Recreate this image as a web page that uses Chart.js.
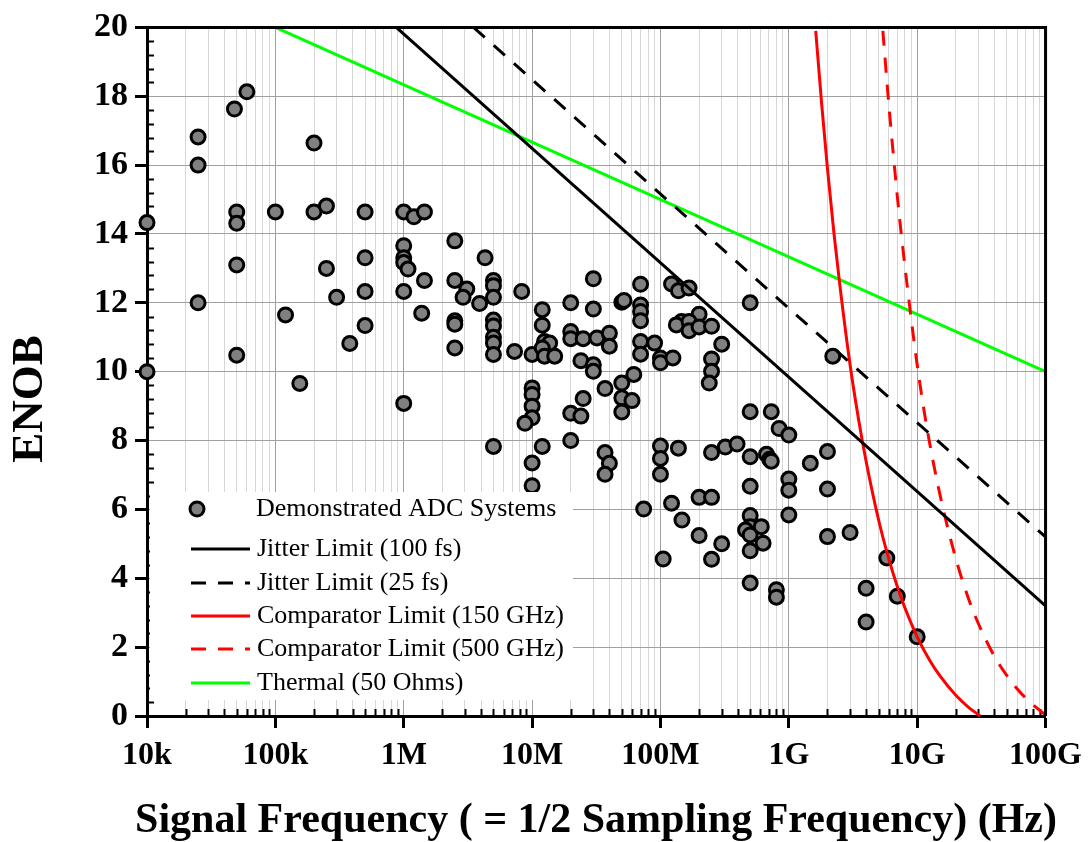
<!DOCTYPE html>
<html>
<head>
<meta charset="utf-8">
<script src="https://cdn.jsdelivr.net/npm/chart.js@4.4.1/dist/chart.umd.min.js"></script>
<style>
  html, body { margin: 0; padding: 0; background: #fff; }
  #wrap { width: 1091px; height: 842px; }
</style>
</head>
<body>
<div id="wrap"><canvas id="chart" width="1091" height="842"></canvas></div>
<script>
// Demonstrated ADC systems: signal frequency (Hz) and ENOB
const adcFreq = [
  1e4, 1e4, 2.5e4, 2.5e4, 2.5e4, 4.8e4, 6e4, 5e4, 5e4, 5e4,
  5e4, 1e5, 1.2e5, 1.55e5, 2e5, 2e5, 2.5e5, 2.5e5, 3e5, 3.8e5,
  5e5, 5e5, 5e5, 5e5, 1e6, 1.2e6, 1.45e6, 1e6, 1e6, 1e6,
  1.08e6, 1.45e6, 1e6, 1.38e6, 1e6, 2.5e6, 4.3e6, 2.5e6, 3.1e6, 2.9e6,
  3.9e6, 5e6, 5e6, 5e6, 5e6, 5e6, 5e6, 5e6, 5e6, 5e6,
  2.5e6, 2.5e6, 2.5e6, 8.3e6, 7.3e6, 1e7, 1.2e7, 1.2e7, 1.25e7, 1.37e7,
  1.2e7, 1.25e7, 1.5e7, 1e7, 1e7, 1e7, 1e7, 8.8e6, 1.2e7, 1e7,
  1e7, 2e7, 3e7, 3e7, 2e7, 2e7, 2.5e7, 3.2e7, 4e7, 4e7,
  2.4e7, 3e7, 3e7, 3.7e7, 2.5e7, 2e7, 2.4e7, 2e7, 3.7e7, 4e7,
  3.7e7, 5e7, 5e7, 6e7, 5e7, 6.2e7, 5e7, 5.2e7, 7e7, 7e7,
  7e7, 7e7, 7e7, 7e7, 9e7, 1e8, 1e8, 1.25e8, 1.22e8, 1.38e8,
  1.67e8, 2e8, 1.46e8, 1.33e8, 1.67e8, 1.67e8, 2e8, 2.5e8, 3e8, 2.5e8,
  2.5e8, 2.4e8, 5e8, 2.2e9, 5e8, 7.3e8, 1e8, 1e8, 1e8, 1.38e8,
  2.5e8, 3.2e8, 3.95e8, 5e8, 8.4e8, 1e9, 6.7e8, 7.1e8, 7.3e8, 1.47e9,
  2e9, 1e9, 1e9, 2e9, 5e8, 2e8, 2.5e8, 1.22e8, 7.4e7, 1.47e8,
  2e8, 3e8, 5e8, 5e8, 4.6e8, 5e8, 6.1e8, 6.3e8, 1e9, 2e9,
  5e8, 1.05e8, 2.5e8, 5e8, 8e8, 8e8, 3e9, 4e9, 4e9, 5.8e9,
  7e9, 1e10
];
const adcEnob = [
  14.33, 10.0, 16.82, 16.0, 12.0, 17.63, 18.13, 14.64, 14.31, 13.1,
  10.48, 14.64, 11.65, 9.66, 16.64, 14.64, 14.81, 13.0, 12.16, 10.82,
  14.64, 13.31, 12.33, 11.34, 14.64, 14.5, 14.64, 13.66, 13.31, 13.17,
  12.98, 12.65, 12.33, 11.7, 9.08, 13.8, 13.31, 12.65, 12.4, 12.16,
  11.98, 12.65, 12.5, 12.16, 11.5, 11.33, 11.0, 10.83, 10.5, 7.83,
  11.48, 11.38, 10.69, 12.33, 10.59, 10.5, 11.8, 11.35, 10.88, 10.83,
  10.69, 10.45, 10.45, 9.53, 9.34, 9.0, 8.66, 8.5, 7.83, 7.35,
  6.69, 12.0, 12.7, 11.82, 11.17, 10.96, 10.96, 10.98, 11.12, 10.74,
  10.32, 10.2, 10.01, 9.51, 9.22, 8.79, 8.71, 8.0, 7.65, 7.34,
  7.02, 9.67, 9.24, 9.16, 8.83, 9.92, 12.02, 12.07, 12.54, 11.94,
  11.75, 11.48, 10.88, 10.51, 10.83, 10.4, 10.26, 10.4, 12.55, 12.35,
  12.43, 11.67, 11.46, 11.36, 11.46, 11.19, 11.3, 11.32, 10.8, 10.37,
  10.01, 9.67, 12.0, 10.45, 8.84, 8.84, 7.84, 7.48, 7.02, 7.78,
  7.65, 7.81, 7.9, 7.53, 8.35, 8.16, 7.6, 7.46, 7.4, 7.34,
  7.68, 6.88, 6.56, 6.59, 6.67, 6.35, 6.35, 6.18, 6.01, 5.69,
  5.24, 5.0, 5.82, 5.5, 5.4, 5.26, 5.5, 5.02, 5.84, 5.21,
  4.8, 4.56, 4.55, 3.86, 3.67, 3.45, 5.33, 3.71, 2.73, 4.59,
  3.48, 2.3
];

// Limit curves
const jitter100Freq = [8.75e5, 1e11];
const jitter100Enob = [20, 3.2];
const jitter25Freq = [3.5e6, 1e11];
const jitter25Enob = [20, 5.2];
const thermalFreq = [1e5, 1e11];
const thermalEnob = [20, 10];
const comp150Freq = [1.62e9, 1.8e9, 2e9, 2.25e9, 2.5e9, 3e9, 3.5e9, 4e9, 5e9, 6e9, 7e9, 8e9, 1e10, 1.25e10, 1.5e10, 2e10, 2.5e10, 3.1e10];
const comp150Enob = [19.9, 17.8, 15.9, 14.0, 12.5, 10.2, 8.6, 7.4, 5.7, 4.57, 3.76, 3.15, 2.3, 1.62, 1.17, 0.6, 0.26, 0];
const comp500Freq = [5.4e9, 6e9, 7e9, 8e9, 1e10, 1.2e10, 1.5e10, 2e10, 2.5e10, 3e10, 4e10, 5e10, 6e10, 7e10, 8e10, 1e11];
const comp500Enob = [19.9, 17.8, 15.1, 13.1, 10.2, 8.3, 6.45, 4.57, 3.43, 2.68, 1.73, 1.17, 0.79, 0.52, 0.32, 0.03];

const xTickLabels = ['10k', '100k', '1M', '10M', '100M', '1G', '10G', '100G'];

const FONT = "'Liberation Serif', 'Times New Roman', serif";

const pts = (xs, ys) => xs.map((x, i) => ({ x, y: ys[i] }));
const isDecade = (v) => {
  const e = Math.round(Math.log10(v));
  return Math.abs(v / Math.pow(10, e) - 1) < 1e-9;
};

// inset legend, minor ticks, frame and axis titles
const decorPlugin = {
  id: 'decor',
  beforeDatasetsDraw(chart) {
    const { ctx, chartArea: a, scales } = chart;
    ctx.save();
    ctx.strokeStyle = '#000';
    ctx.lineWidth = 2;
    // minor y ticks pointing inward
    for (let v = 0.4; v < 20; v += 0.4) {
      if (Math.abs(v / 2 - Math.round(v / 2)) < 1e-6) continue;
      const y = Math.round(scales.y.getPixelForValue(v)) + 0.5;
      ctx.beginPath();
      ctx.moveTo(a.left, y);
      ctx.lineTo(a.left + 7, y);
      ctx.stroke();
    }
    // minor x ticks pointing inward
    scales.x.ticks.forEach((t) => {
      if (isDecade(t.value)) return;
      const x = Math.round(scales.x.getPixelForValue(t.value)) + 0.5;
      ctx.beginPath();
      ctx.moveTo(x, a.bottom);
      ctx.lineTo(x, a.bottom - 7);
      ctx.stroke();
    });
    ctx.restore();
  },
  afterDatasetsDraw(chart) {
    const { ctx, chartArea: a } = chart;
    ctx.save();
    // frame top/right
    ctx.strokeStyle = '#000';
    ctx.lineWidth = 3;
    ctx.beginPath();
    ctx.moveTo(a.left, a.top);
    ctx.lineTo(a.right, a.top);
    ctx.lineTo(a.right, a.bottom);
    ctx.stroke();

    // legend box
    ctx.fillStyle = '#fff';
    ctx.fillRect(150, 492, 423, 208);
    ctx.font = '26px ' + FONT;
    ctx.textBaseline = 'middle';
    ctx.textAlign = 'left';
    const ds = chart.data.datasets;
    // scatter entry
    const sc = ds[5];
    ctx.beginPath();
    ctx.arc(197, 509, 7, 0, Math.PI * 2);
    ctx.fillStyle = sc.backgroundColor;
    ctx.fill();
    ctx.lineWidth = 3;
    ctx.strokeStyle = sc.borderColor;
    ctx.stroke();
    ctx.fillStyle = '#000';
    ctx.fillText(sc.label, 256, 509);
    const rows = [549, 583, 616, 649, 683];
    for (let i = 0; i < 5; i++) {
      const d = ds[i];
      const y = rows[i];
      ctx.beginPath();
      ctx.setLineDash(d.borderDash || []);
      ctx.strokeStyle = d.borderColor;
      ctx.lineWidth = 3;
      ctx.moveTo(191, y);
      ctx.lineTo(250, y);
      ctx.stroke();
      ctx.setLineDash([]);
      ctx.fillStyle = '#000';
      ctx.fillText(d.label, 257, y);
    }
    ctx.restore();
  },
  afterDraw(chart) {
    const { ctx } = chart;
    ctx.save();
    ctx.fillStyle = '#000';
    ctx.font = 'bold 42px ' + FONT;
    ctx.textAlign = 'center';
    ctx.textBaseline = 'middle';
    ctx.fillText('Signal Frequency ( = 1/2 Sampling Frequency) (Hz)', 596, 821);
    ctx.font = 'bold 45px ' + FONT;
    ctx.translate(30, 399);
    ctx.rotate(-Math.PI / 2);
    ctx.fillText('ENOB', 0, 0);
    ctx.restore();
  }
};

const lineStyle = { pointRadius: 0, borderWidth: 3, fill: false, clip: 2 };

new Chart(document.getElementById('chart'), {
  type: 'scatter',
  data: {
    datasets: [
      { type: 'line', label: 'Jitter Limit (100 fs)', data: pts(jitter100Freq, jitter100Enob), borderColor: '#000000', ...lineStyle, order: 0 },
      { type: 'line', label: 'Jitter Limit (25 fs)', data: pts(jitter25Freq, jitter25Enob), borderColor: '#000000', borderDash: [15, 12], ...lineStyle, order: 0 },
      { type: 'line', label: 'Comparator Limit (150 GHz)', data: pts(comp150Freq, comp150Enob), borderColor: '#ff0000', cubicInterpolationMode: 'monotone', ...lineStyle, order: 0 },
      { type: 'line', label: 'Comparator Limit (500 GHz)', data: pts(comp500Freq, comp500Enob), borderColor: '#ff0000', borderDash: [15, 12], cubicInterpolationMode: 'monotone', ...lineStyle, order: 0 },
      { type: 'line', label: 'Thermal (50 Ohms)', data: pts(thermalFreq, thermalEnob), borderColor: '#00ff00', ...lineStyle, order: 0 },
      {
        type: 'scatter',
        label: 'Demonstrated ADC Systems',
        data: pts(adcFreq, adcEnob),
        backgroundColor: '#808080',
        borderColor: '#000000',
        borderWidth: 3,
        pointRadius: 7,
        clip: false,
        order: 1
      }
    ]
  },
  options: {
    responsive: false,
    animation: false,
    events: [],
    layout: { padding: { top: 25, right: 45, left: 0, bottom: 0 } },
    plugins: { legend: { display: false }, tooltip: { enabled: false } },
    scales: {
      x: {
        type: 'logarithmic',
        min: 1e4,
        max: 1e11,
        afterFit: (s) => { s.height = 126; },
        afterBuildTicks: (s) => {
          const ticks = [];
          for (let e = 4; e <= 11; e++) {
            for (let m = 1; m <= 9; m++) {
              if (e === 11 && m > 1) break;
              ticks.push({ value: m * Math.pow(10, e) });
            }
          }
          s.ticks = ticks;
        },
        border: { color: '#000', width: 3 },
        grid: {
          color: (c) => (c.tick && isDecade(c.tick.value) ? '#a0a0a0' : '#d6d6d6'),
          lineWidth: 1,
          tickLength: 12,
          tickWidth: 3,
          tickColor: (c) => (c.tick && isDecade(c.tick.value) ? '#000' : 'rgba(0,0,0,0)')
        },
        ticks: {
          autoSkip: false,
          maxRotation: 0,
          padding: 9,
          color: '#000',
          font: { family: FONT, size: 32, weight: 'bold' },
          callback: (v) => (isDecade(v) ? xTickLabels[Math.round(Math.log10(v)) - 4] : '')
        }
      },
      y: {
        min: 0,
        max: 20,
        afterFit: (s) => { s.width = 147; },
        border: { color: '#000', width: 3 },
        grid: { color: '#a0a0a0', lineWidth: 1, tickLength: 12, tickWidth: 3, tickColor: '#000' },
        ticks: {
          stepSize: 2,
          padding: 7,
          color: '#000',
          font: { family: FONT, size: 34, weight: 'bold' }
        }
      }
    }
  },
  plugins: [decorPlugin]
});
</script>
</body>
</html>
